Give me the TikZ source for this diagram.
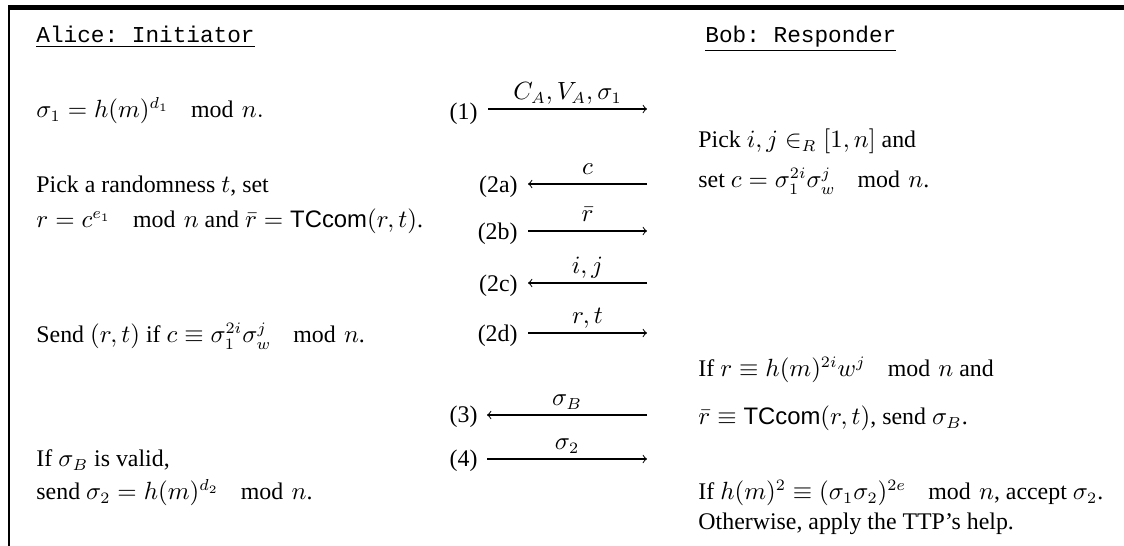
\documentclass[tikz,border=0pt]{standalone}
\usepackage{amsmath}
\usepackage{fontspec}
\setmainfont{Liberation Serif}
\setsansfont{Liberation Sans}
\setmonofont{Liberation Mono}
\newcommand\mymod[1]{\mkern16mu\mathrm{mod}\,\,#1}
\begin{document}
\begin{tikzpicture}[x=0.44pt,y=-0.44pt,
  font=\fontsize{10.5}{12.6}\selectfont,
  txt/.style={anchor=base west, inner sep=0pt},
  ttl/.style={anchor=base west, inner sep=0pt, font=\fontsize{10}{12}\selectfont\ttfamily},
  num/.style={anchor=base east, inner sep=0pt},
  lbl/.style={anchor=base, inner sep=0pt, yshift=4pt},
  msg/.style={line width=0.45pt}]
\useasboundingbox (0,0) rectangle (1124,546);
% frame
\draw[line width=2.2pt] (8,7.3) -- (1124,7.3);
\draw[line width=0.9pt] (9,7) -- (9,546);
% titles
\node[ttl] (aT) at (36,43) {\underline{Alice: Initiator}};
\node[ttl] (bT) at (705,43) {\underline{Bob: Responder}};
% Alice column
\node[txt] (a1) at (36,118) {$\sigma_1=h(m)^{d_1}\mymod{n}.$};
\node[txt] (a2) at (36,193) {Pick a randomness $t$, set};
\node[txt] (a3) at (36,228) {$r=c^{e_1}\mymod{n}$ and $\bar r=\textsf{TCcom}(r,t)$.};
\node[txt] (a4) at (36,343) {Send $(r,t)$ if $c\equiv\sigma_1^{2i}\sigma_w^{j}\mymod{n}$.};
\node[txt] (a5) at (36,467) {If $\sigma_B$ is valid,};
\node[txt] (a6) at (36,500) {send $\sigma_2=h(m)^{d_2}\mymod{n}$.};
% Bob column
\node[txt] (b1) at (698,148) {Pick $i,j\in_R[1,n]$ and};
\node[txt] (b2) at (698,188) {set $c=\sigma_1^{2i}\sigma_w^{j}\mymod{n}$.};
\node[txt] (b3) at (698,377) {If $r\equiv h(m)^{2i}w^{j}\mymod{n}$ and};
\node[txt] (b4) at (698,425) {$\bar r\equiv\textsf{TCcom}(r,t)$, send $\sigma_B$.};
\node[txt] (b5) at (698,500) {If $h(m)^2\equiv(\sigma_1\sigma_2)^{2e}\mymod{n}$, accept $\sigma_2$.};
\node[txt] (b6) at (698,530) {Otherwise, apply the TTP’s help.};
% step numbers
\node[num] (n1) at (478,120) {(1)};
\node[num] (n2a) at (518,193) {(2a)};
\node[num] (n2b) at (518,240) {(2b)};
\node[num] (n2c) at (518,292) {(2c)};
\node[num] (n2d) at (518,342) {(2d)};
\node[num] (n3) at (478,423) {(3)};
\node[num] (n4) at (478,467) {(4)};
% arrow end points
\coordinate (p1l) at (488,109);  \coordinate (p1r) at (647,109);
\coordinate (p2al) at (528,184); \coordinate (p2ar) at (647,184);
\coordinate (p2bl) at (528,231); \coordinate (p2br) at (647,231);
\coordinate (p2cl) at (528,283); \coordinate (p2cr) at (647,283);
\coordinate (p2dl) at (528,333); \coordinate (p2dr) at (647,333);
\coordinate (p3l) at (487,415);  \coordinate (p3r) at (647,415);
\coordinate (p4l) at (487,459);  \coordinate (p4r) at (647,459);
% messages
\draw[msg,->] (p1l) -- node[lbl] {$C_A,V_A,\sigma_1$} (p1r);
\draw[msg,->] (p2ar) -- node[lbl] {$c$} (p2al);
\draw[msg,->] (p2bl) -- node[lbl] {$\bar r$} (p2br);
\draw[msg,->] (p2cr) -- node[lbl] {$i,j$} (p2cl);
\draw[msg,->] (p2dl) -- node[lbl] {$r,t$} (p2dr);
\draw[msg,->] (p3r) -- node[lbl] {$\sigma_B$} (p3l);
\draw[msg,->] (p4l) -- node[lbl] {$\sigma_2$} (p4r);
\end{tikzpicture}
\end{document}
